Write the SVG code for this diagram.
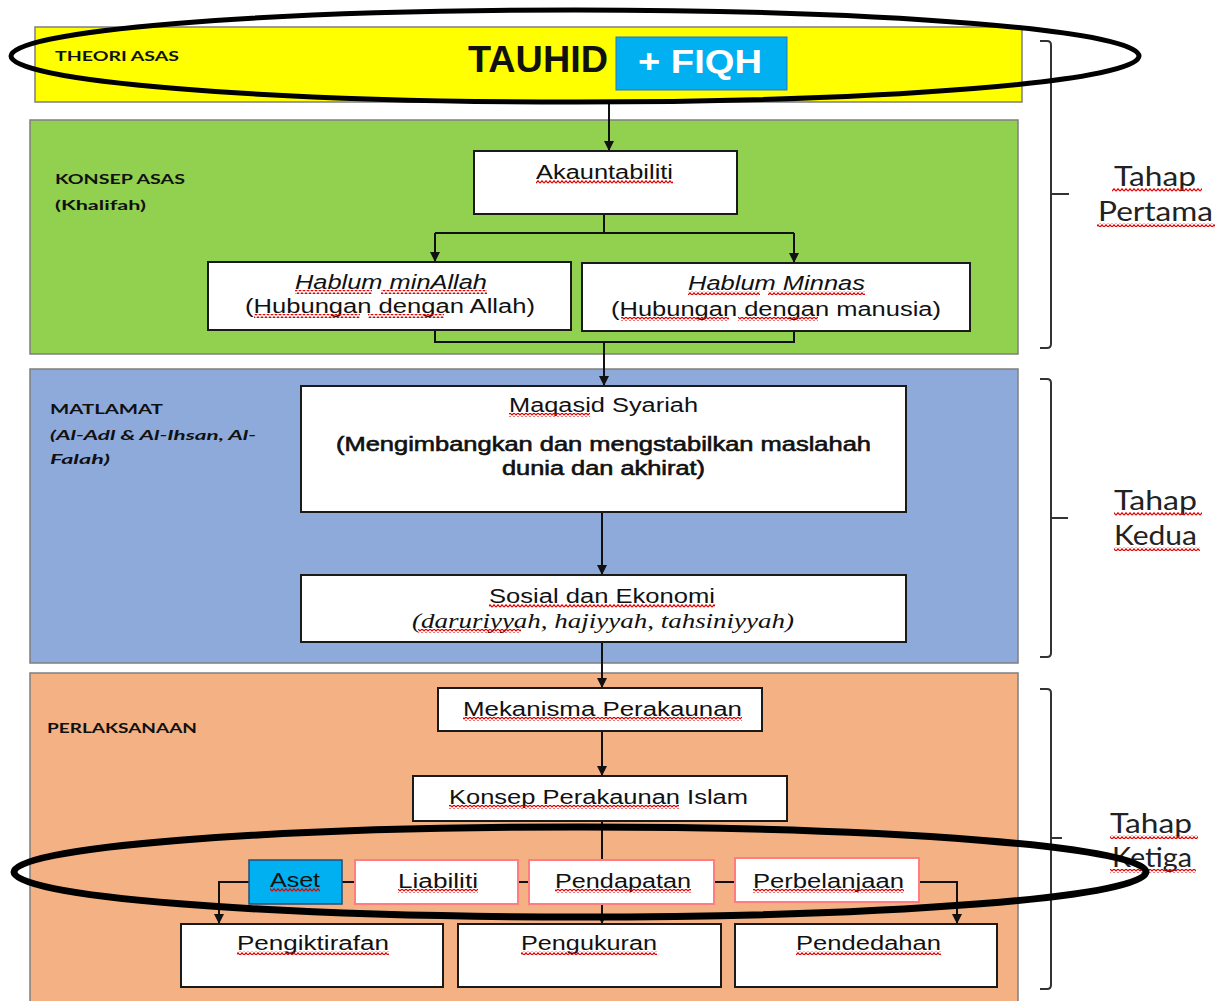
<svg xmlns="http://www.w3.org/2000/svg" width="1217" height="1001" viewBox="0 0 1217 1001">
<style>
.panel{stroke:#7f7f7f;stroke-width:1.5}
.box{fill:#fff;stroke:#1a1a1a;stroke-width:2}
.rbox{fill:#fff;stroke:#ff7c80;stroke-width:2}
.t{font-family:"Liberation Sans",Arial,sans-serif;font-size:20px;fill:#111}
.tb{font-family:"Liberation Sans",Arial,sans-serif;font-size:20px;fill:#111;stroke:#111;stroke-width:0.6}
.ti{font-family:"Liberation Sans",Arial,sans-serif;font-size:20px;font-style:italic;fill:#111}
.ts{font-family:"Liberation Serif",serif;font-size:20px;font-style:italic;fill:#111}
.lab{font-family:Lato,"Noto Sans",sans-serif;font-size:14px;font-weight:bold;fill:#111}
.tah{font-family:Lato,"Open Sans",sans-serif;font-size:27px;fill:#222}
.con{fill:none;stroke:#111;stroke-width:2}
.br{fill:none;stroke:#333;stroke-width:2}
.ell{fill:none;stroke:#000}
.sq{fill:url(#wv)}
</style>
<defs>
<marker id="ah" markerWidth="10" markerHeight="10" refX="9" refY="5" orient="auto" markerUnits="userSpaceOnUse">
<path d="M0,0 L10,5 L0,10 z" fill="#111"/>
</marker>
<pattern id="wv" width="4" height="4" patternUnits="userSpaceOnUse">
<path d="M0,3.2 L2,0.8 L4,3.2" fill="none" stroke="#e00000" stroke-width="1.2"/>
</pattern>
</defs>

<!-- panels -->
<g id="panel-theori">
<rect class="panel" x="35" y="27" width="987" height="75" fill="#ffff00"/>
<text class="lab" x="55" y="61" textLength="124" lengthAdjust="spacingAndGlyphs">THEORI ASAS</text>
</g>
<g id="panel-konsep">
<rect class="panel" x="30" y="120" width="988" height="234" fill="#92d050"/>
<text class="lab" x="55" y="184" textLength="130" lengthAdjust="spacingAndGlyphs">KONSEP ASAS</text>
<text class="lab" x="55" y="210" textLength="91" lengthAdjust="spacingAndGlyphs">(Khalifah)</text>
</g>
<g id="panel-matlamat">
<rect class="panel" x="30" y="369" width="988" height="294" fill="#8eaadb"/>
<text class="lab" x="50" y="414" textLength="113" lengthAdjust="spacingAndGlyphs">MATLAMAT</text>
<text class="lab" x="50" y="440" font-style="italic" textLength="206" lengthAdjust="spacingAndGlyphs">(Al-Adl &amp; Al-Ihsan, Al-</text>
<text class="lab" x="50" y="464" font-style="italic" textLength="60" lengthAdjust="spacingAndGlyphs">Falah)</text>
</g>
<g id="panel-perlaksanaan">
<rect class="panel" x="30" y="673" width="988" height="340" fill="#f4b183"/>
<text class="lab" x="47" y="733" textLength="150" lengthAdjust="spacingAndGlyphs">PERLAKSANAAN</text>
</g>

<!-- connectors -->
<g id="connectors">
<path class="con" d="M609,102 V150" marker-end="url(#ah)"/>
<path class="con" d="M604,214 V233 M435,233 H794"/>
<path class="con" d="M435,233 V261" marker-end="url(#ah)"/>
<path class="con" d="M794,233 V262" marker-end="url(#ah)"/>
<path class="con" d="M435,330 V342 H794 V331"/>
<path class="con" d="M604,342 V385" marker-end="url(#ah)"/>
<path class="con" d="M602,512 V574" marker-end="url(#ah)"/>
<path class="con" d="M602,642 V687" marker-end="url(#ah)"/>
<path class="con" d="M602,731 V775" marker-end="url(#ah)"/>
<path class="con" d="M602,821 V860"/>
<path class="con" d="M602,904 V923" marker-end="url(#ah)"/>
<path class="con" d="M342,882 H355 M518,882 H529 M714,882 H735"/>
<path class="con" d="M249,882 H219 V923" marker-end="url(#ah)"/>
<path class="con" d="M919,882 H957 V923" marker-end="url(#ah)"/>
</g>

<!-- nodes -->
<g id="node-tauhid">
<text x="468" y="72" font-family="Liberation Sans,Arial,sans-serif" font-weight="bold" font-size="36" fill="#111" textLength="140" lengthAdjust="spacingAndGlyphs">TAUHID</text>
</g>
<g id="node-fiqh">
<rect x="616" y="37" width="171" height="53" fill="#00b0f0" stroke="#2e75b6" stroke-width="1"/>
<text x="638" y="73" font-family="Liberation Sans,Arial,sans-serif" font-weight="bold" font-size="34" fill="#fff" textLength="124" lengthAdjust="spacingAndGlyphs">+ FIQH</text>
</g>
<g id="node-akauntabiliti">
<rect class="box" x="474" y="151" width="263" height="63"/>
<text class="t" x="536" y="179" textLength="137" lengthAdjust="spacingAndGlyphs">Akauntabiliti</text>
<rect class="sq" x="536" y="180" width="137" height="4"/>
</g>
<g id="node-hablum-allah">
<rect class="box" x="208" y="262" width="363" height="68"/>
<text class="ti" x="295" y="289" textLength="192" lengthAdjust="spacingAndGlyphs">Hablum minAllah</text>
<text class="t" x="245" y="313" textLength="290" lengthAdjust="spacingAndGlyphs">(Hubungan dengan Allah)</text>
<rect class="sq" x="295" y="290" width="77" height="4"/>
<rect class="sq" x="381" y="290" width="106" height="4"/>
<rect class="sq" x="254" y="314" width="106" height="4"/>
<rect class="sq" x="368" y="314" width="76" height="4"/>
</g>
<g id="node-hablum-minnas">
<rect class="box" x="582" y="263" width="388" height="68"/>
<text class="ti" x="688" y="290" textLength="177" lengthAdjust="spacingAndGlyphs">Hablum Minnas</text>
<text class="t" x="611" y="316" textLength="330" lengthAdjust="spacingAndGlyphs">(Hubungan dengan manusia)</text>
<rect class="sq" x="688" y="291" width="72" height="4"/>
<rect class="sq" x="768" y="291" width="97" height="4"/>
<rect class="sq" x="621" y="317" width="108" height="4"/>
<rect class="sq" x="738" y="317" width="80" height="4"/>
</g>
<g id="node-maqasid">
<rect class="box" x="301" y="386" width="605" height="126"/>
<text class="t" x="509" y="412" textLength="189" lengthAdjust="spacingAndGlyphs">Maqasid Syariah</text>
<text class="tb" x="336" y="451" textLength="535" lengthAdjust="spacingAndGlyphs">(Mengimbangkan dan mengstabilkan maslahah</text>
<text class="tb" x="502" y="475" textLength="203" lengthAdjust="spacingAndGlyphs">dunia dan akhirat)</text>
<rect class="sq" x="509" y="413" width="81" height="4"/>
</g>
<g id="node-sosial">
<rect class="box" x="301" y="575" width="605" height="67"/>
<text class="t" x="489" y="603" textLength="226" lengthAdjust="spacingAndGlyphs">Sosial dan Ekonomi</text>
<text class="ts" x="412" y="628" textLength="382" lengthAdjust="spacingAndGlyphs">(daruriyyah, hajiyyah, tahsiniyyah)</text>
<rect class="sq" x="489" y="604" width="226" height="4"/>
<rect class="sq" x="418" y="629" width="103" height="4"/>
</g>
<g id="node-mekanisma">
<rect class="box" x="438" y="688" width="324" height="43"/>
<text class="t" x="463" y="716" textLength="279" lengthAdjust="spacingAndGlyphs">Mekanisma Perakaunan</text>
<rect class="sq" x="463" y="717" width="279" height="4"/>
</g>
<g id="node-konsep-perakaunan">
<rect class="box" x="413" y="776" width="374" height="45"/>
<text class="t" x="449" y="804" textLength="299" lengthAdjust="spacingAndGlyphs">Konsep Perakaunan Islam</text>
<rect class="sq" x="449" y="805" width="230" height="4"/>
</g>
<g id="node-aset">
<rect x="249" y="860" width="93" height="44" fill="#00b0f0" stroke="#1f4e79" stroke-width="1.5"/>
<text class="t" x="270" y="887" textLength="50" lengthAdjust="spacingAndGlyphs">Aset</text>
<rect class="sq" x="270" y="888" width="50" height="4"/>
</g>
<g id="node-liabiliti">
<rect class="rbox" x="355" y="860" width="163" height="44"/>
<text class="t" x="398" y="888" textLength="80" lengthAdjust="spacingAndGlyphs">Liabiliti</text>
<rect class="sq" x="398" y="889" width="80" height="4"/>
</g>
<g id="node-pendapatan">
<rect class="rbox" x="529" y="860" width="185" height="44"/>
<text class="t" x="555" y="888" textLength="136" lengthAdjust="spacingAndGlyphs">Pendapatan</text>
<rect class="sq" x="555" y="889" width="136" height="4"/>
</g>
<g id="node-perbelanjaan">
<rect class="rbox" x="735" y="858" width="184" height="44"/>
<text class="t" x="753" y="888" textLength="151" lengthAdjust="spacingAndGlyphs">Perbelanjaan</text>
<rect class="sq" x="753" y="889" width="151" height="4"/>
</g>
<g id="node-pengiktirafan">
<rect class="box" x="181" y="924" width="262" height="63"/>
<text class="t" x="237" y="950" textLength="152" lengthAdjust="spacingAndGlyphs">Pengiktirafan</text>
<rect class="sq" x="237" y="951" width="152" height="4"/>
</g>
<g id="node-pengukuran">
<rect class="box" x="458" y="924" width="263" height="63"/>
<text class="t" x="521" y="950" textLength="136" lengthAdjust="spacingAndGlyphs">Pengukuran</text>
<rect class="sq" x="521" y="951" width="136" height="4"/>
</g>
<g id="node-pendedahan">
<rect class="box" x="735" y="924" width="262" height="63"/>
<text class="t" x="796" y="950" textLength="145" lengthAdjust="spacingAndGlyphs">Pendedahan</text>
<rect class="sq" x="796" y="951" width="145" height="4"/>
</g>

<!-- brackets and stage labels -->
<g id="stage-1">
<path class="br" d="M1040,41 H1047 Q1051,41 1051,45 V194 H1069 M1051,194 V344 Q1051,348 1047,348 H1040"/>
<text class="tah" x="1114" y="186" textLength="82" lengthAdjust="spacingAndGlyphs">Tahap</text>
<text class="tah" x="1098" y="221" textLength="115" lengthAdjust="spacingAndGlyphs">Pertama</text>
<rect class="sq" x="1112" y="188" width="90" height="4"/>
<rect class="sq" x="1097" y="223" width="118" height="4"/>
</g>
<g id="stage-2">
<path class="br" d="M1040,379 H1047 Q1051,379 1051,383 V518 H1068 M1051,518 V653 Q1051,657 1047,657 H1040"/>
<text class="tah" x="1114" y="510" textLength="83" lengthAdjust="spacingAndGlyphs">Tahap</text>
<text class="tah" x="1114" y="545" textLength="83" lengthAdjust="spacingAndGlyphs">Kedua</text>
<rect class="sq" x="1114" y="512" width="88" height="4"/>
<rect class="sq" x="1114" y="547" width="86" height="4"/>
</g>
<g id="stage-3">
<path class="br" d="M1040,689 H1047 Q1051,689 1051,693 V838 H1062 M1051,838 V985 Q1051,989 1047,989 H1040"/>
<text class="tah" x="1110" y="833" textLength="82" lengthAdjust="spacingAndGlyphs">Tahap</text>
<text class="tah" x="1112" y="867" textLength="80" lengthAdjust="spacingAndGlyphs">Ketiga</text>
<rect class="sq" x="1110" y="835" width="88" height="4"/>
<rect class="sq" x="1110" y="869" width="86" height="4"/>
</g>

<!-- highlight ellipses -->
<g id="highlights">
<ellipse class="ell" cx="575" cy="56" rx="564" ry="46" stroke-width="5"/>
<ellipse class="ell" cx="580" cy="872" rx="566" ry="45" stroke-width="7"/>
</g>
</svg>
